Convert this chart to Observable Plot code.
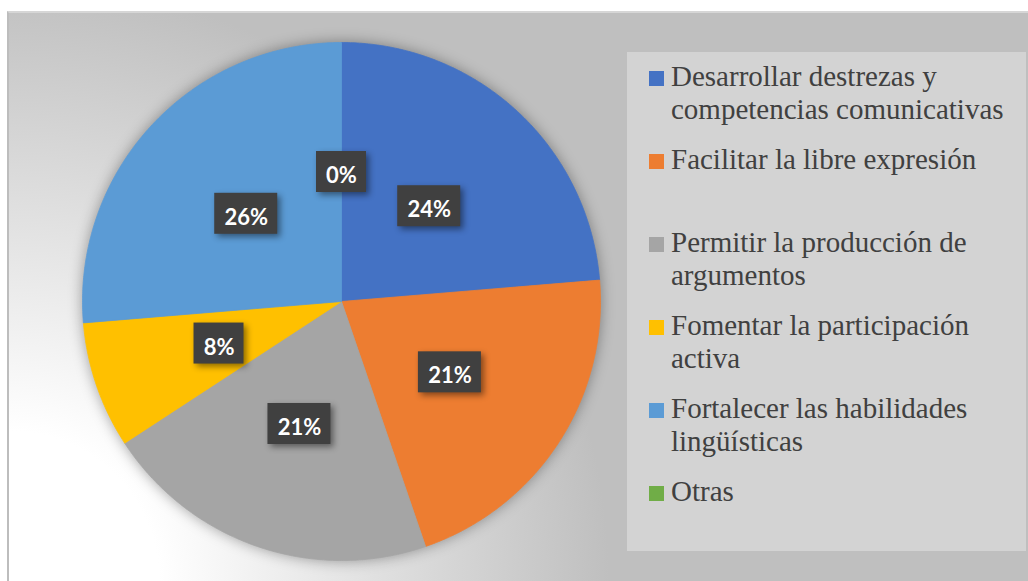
<!DOCTYPE html>
<html>
<head>
<meta charset="utf-8">
<script src="https://cdn.jsdelivr.net/npm/d3@7"></script>
<script src="https://cdn.jsdelivr.net/npm/@observablehq/plot@0.6"></script>
<style>
  html, body { margin: 0; padding: 0; background: #ffffff; }
  #wrap { position: relative; width: 1028px; height: 581px; overflow: hidden; }
  #panel {
    position: absolute; left: 7px; top: 11px; right: 0; bottom: 0;
    border-top: 2px solid #d6d6d6; border-left: 2px solid #bdbdbd;
    background: radial-gradient(circle at 0px 100%, #ffffff 150px, #bfbfbf 600px);
  }
  #chart { position: absolute; left: 0; top: 0; }
  #legend {
    position: absolute; left: 627px; top: 52px; width: 399px; height: 499px;
    background: #d3d3d3;
  }
  .item {
    position: absolute; left: 22px; width: 360px;
    font-family: "Liberation Serif", "Times New Roman", serif;
    font-size: 29px; line-height: 33px; color: #404040;
  }
  .sw { position: absolute; left: 0; top: 10.5px; width: 15px; height: 15px; }
  .txt { margin-left: 22px; width: 345px; }
</style>
</head>
<body>
<div id="wrap">
  <div id="panel"></div>
  <div id="chart"></div>
  <div id="legend"></div>
</div>
<script>
// ---- data ----
const categories = [
  "Desarrollar destrezas y competencias comunicativas",
  "Facilitar la libre expresión",
  "Permitir la producción de argumentos",
  "Fomentar la participación activa",
  "Fortalecer las habilidades lingüísticas",
  "Otras"
];
const values = [9, 8, 8, 3, 10, 0];
const colors = ["#4472C4", "#ED7D31", "#A5A5A5", "#FFC000", "#5B9BD5", "#70AD47"];

// ---- build tables ----
const total = d3.sum(values);
const arcs = d3.pie().sort(null).value(d => d)(values);
const fmt = d3.format(".0%");

const slicePts = [];
arcs.forEach((a, i) => {
  if (a.endAngle - a.startAngle <= 0) return;
  const n = Math.max(2, Math.ceil((a.endAngle - a.startAngle) / (Math.PI / 360)));
  slicePts.push({cat: categories[i], x: 0, y: 0});
  for (let k = 0; k <= n; k++) {
    const t = a.startAngle + (a.endAngle - a.startAngle) * k / n;
    slicePts.push({cat: categories[i], x: Math.sin(t), y: Math.cos(t)});
  }
  slicePts.push({cat: categories[i], x: 0, y: 0});
});

const W = 1028, H = 581;
const mL = 82, mR = 428, mT = 42, mB = 21;
const unitPerPx = 2 / (W - mL - mR);
const labelR = 0.5;

const labels = arcs.map((a, i) => {
  const mid = (a.startAngle + a.endAngle) / 2;
  const text = fmt(values[i] / total);
  const wPx = 13 * text.length + 24, hPx = 41;
  const x = labelR * Math.sin(mid), y = labelR * Math.cos(mid);
  return {
    text, x, y,
    x1: x - wPx / 2 * unitPerPx, x2: x + wPx / 2 * unitPerPx,
    y1: y - hPx / 2 * unitPerPx, y2: y + hPx / 2 * unitPerPx
  };
});

const svg = Plot.plot({
  width: W, height: H,
  marginLeft: mL, marginRight: mR, marginTop: mT, marginBottom: mB,
  x: {domain: [-1, 1], axis: null},
  y: {domain: [-1, 1], axis: null},
  color: {domain: categories, range: colors},
  style: {background: "transparent", overflow: "visible"},
  marks: [
    Plot.line(slicePts, {x: "x", y: "y", z: "cat", fill: "cat", stroke: "cat", strokeWidth: 0.8}),
    Plot.rect(labels, {x1: "x1", x2: "x2", y1: "y1", y2: "y2", fill: "#404040"}),
    Plot.text(labels, {x: "x", y: "y", text: "text", fill: "#ffffff", fontSize: 22,
      fontWeight: "bold", fontFamily: "Lato, 'Open Sans', sans-serif", dy: 4})
  ]
});
document.getElementById("chart").appendChild(svg);

const lineG = svg.querySelector('g[aria-label="line"]');
if (lineG) lineG.style.filter = "drop-shadow(0px 0px 7px rgba(0,0,0,0.35))";
const rectG = svg.querySelector('g[aria-label="rect"]');
if (rectG) rectG.style.filter = "drop-shadow(3px 3px 3px rgba(0,0,0,0.45))";

// ---- legend ----
const legend = document.getElementById("legend");
categories.forEach((c, i) => {
  const item = document.createElement("div");
  item.className = "item";
  item.style.top = (8.4 + i * 83) + "px";
  const sw = document.createElement("div");
  sw.className = "sw";
  sw.style.background = colors[i];
  const tx = document.createElement("div");
  tx.className = "txt";
  tx.textContent = c;
  item.appendChild(sw);
  item.appendChild(tx);
  legend.appendChild(item);
});
</script>
</body>
</html>
